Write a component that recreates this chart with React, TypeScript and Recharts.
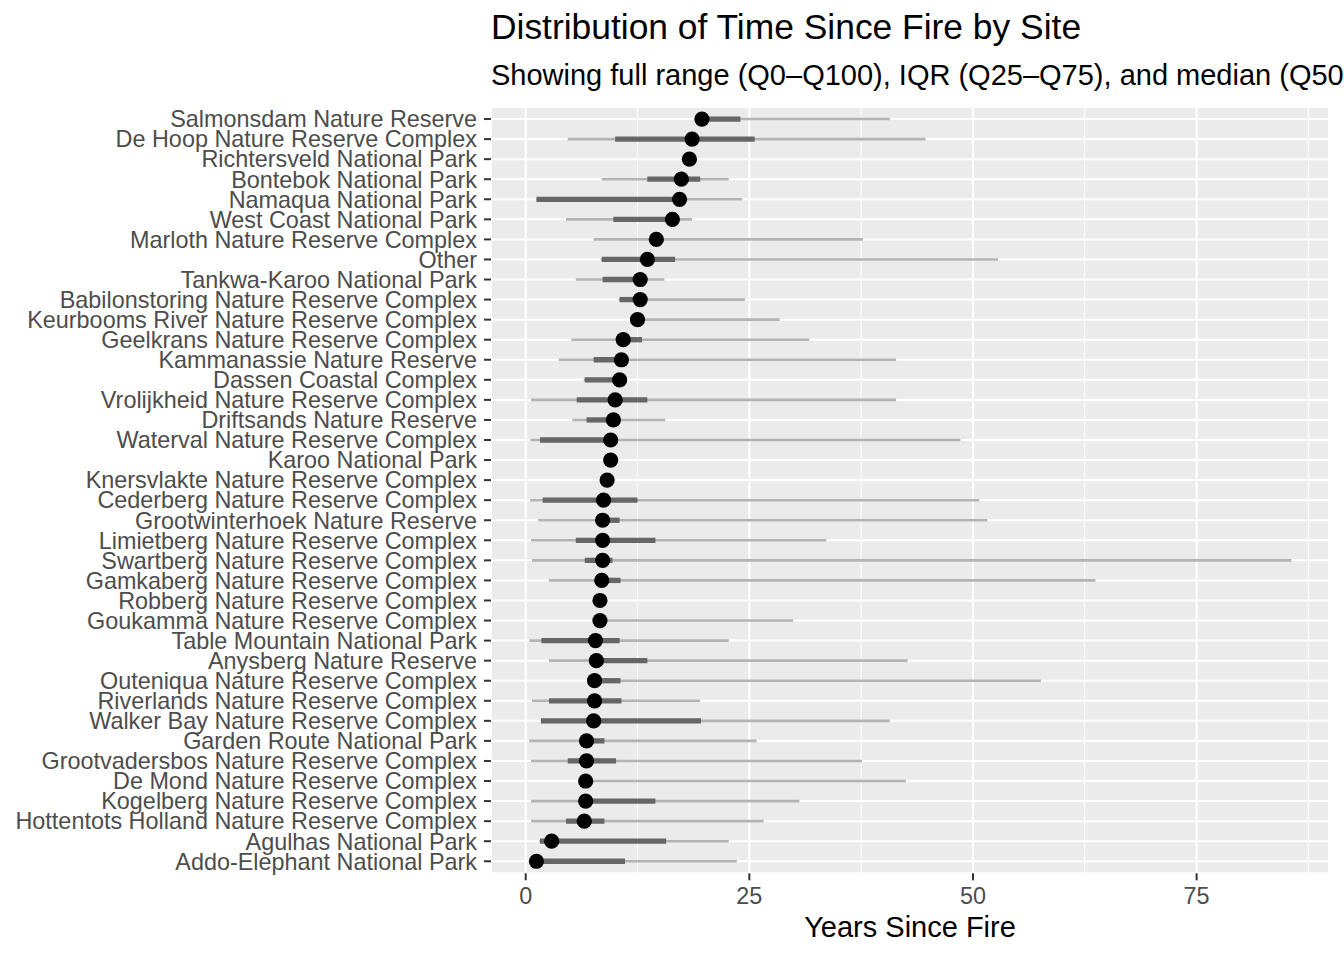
import React from "react";
import {
  ScatterChart,
  Scatter,
  XAxis,
  YAxis,
  CartesianGrid,
  ErrorBar,
  ReferenceLine,
} from "recharts";

// sites, top to bottom (sorted by median)
const sites = [
  "Salmonsdam Nature Reserve",
  "De Hoop Nature Reserve Complex",
  "Richtersveld National Park",
  "Bontebok National Park",
  "Namaqua National Park",
  "West Coast National Park",
  "Marloth Nature Reserve Complex",
  "Other",
  "Tankwa-Karoo National Park",
  "Babilonstoring Nature Reserve Complex",
  "Keurbooms River Nature Reserve Complex",
  "Geelkrans Nature Reserve Complex",
  "Kammanassie Nature Reserve",
  "Dassen Coastal Complex",
  "Vrolijkheid Nature Reserve Complex",
  "Driftsands Nature Reserve",
  "Waterval Nature Reserve Complex",
  "Karoo National Park",
  "Knersvlakte Nature Reserve Complex",
  "Cederberg Nature Reserve Complex",
  "Grootwinterhoek Nature Reserve",
  "Limietberg Nature Reserve Complex",
  "Swartberg Nature Reserve Complex",
  "Gamkaberg Nature Reserve Complex",
  "Robberg Nature Reserve Complex",
  "Goukamma Nature Reserve Complex",
  "Table Mountain National Park",
  "Anysberg Nature Reserve",
  "Outeniqua Nature Reserve Complex",
  "Riverlands Nature Reserve Complex",
  "Walker Bay Nature Reserve Complex",
  "Garden Route National Park",
  "Grootvadersbos Nature Reserve Complex",
  "De Mond Nature Reserve Complex",
  "Kogelberg Nature Reserve Complex",
  "Hottentots Holland Nature Reserve Complex",
  "Agulhas National Park",
  "Addo-Elephant National Park",
];

const q0 = [
  19.3, 4.7, 18.0, 8.5, 1.2, 4.5, 7.6, 8.4, 5.6, 10.4, 12.1, 5.1, 3.7, 6.5,
  0.6, 5.2, 0.5, 9.2, 8.8, 0.5, 1.4, 0.6, 0.7, 2.6, 8.0, 8.0, 0.4, 2.6, 7.2,
  0.7, 1.7, 0.4, 0.6, 6.4, 0.6, 0.6, 1.5, 0.4,
];
const q25 = [
  19.5, 10.0, 18.1, 13.6, 1.2, 9.8, 14.1, 8.5, 8.6, 10.5, 12.3, 10.5, 7.6,
  6.6, 5.7, 6.8, 1.6, 9.3, 9.0, 1.9, 8.2, 5.6, 6.6, 8.1, 8.1, 8.1, 1.75, 7.5,
  7.4, 2.6, 1.7, 6.4, 4.7, 6.5, 6.3, 4.5, 1.6, 0.8,
];
const q50 = [
  19.7, 18.6, 18.3, 17.4, 17.2, 16.4, 14.6, 13.6, 12.8, 12.8, 12.5, 10.9,
  10.7, 10.5, 10.0, 9.8, 9.5, 9.5, 9.1, 8.7, 8.6, 8.6, 8.6, 8.5, 8.3, 8.3, 7.8,
  7.9, 7.7, 7.7, 7.6, 6.8, 6.8, 6.7, 6.7, 6.55, 2.9, 1.2,
];
const q75 = [
  24.0, 25.6, 18.5, 19.5, 17.6, 17.0, 15.4, 16.7, 13.3, 13.2, 13.2, 13.0,
  11.1, 10.8, 13.6, 10.3, 10.0, 9.7, 9.3, 12.5, 10.5, 14.5, 9.7, 10.6, 8.4,
  8.6, 10.5, 13.6, 10.6, 10.7, 19.6, 8.8, 10.1, 7.0, 14.5, 8.8, 15.7, 11.1,
];
const q100 = [
  40.7, 44.7, 18.7, 22.7, 24.2, 18.6, 37.7, 52.8, 15.5, 24.5, 28.4, 31.7,
  41.4, 11.0, 41.4, 15.6, 48.6, 9.9, 9.5, 50.7, 51.6, 33.6, 85.6, 63.7, 8.6,
  29.9, 22.7, 42.7, 57.6, 19.5, 40.7, 25.8, 37.6, 42.5, 30.6, 26.6, 22.7, 23.6,
];

const xTicks = [0, 25, 50, 75];
const xMinor = [12.5, 37.5, 62.5, 87.5];

const FONT = "'Liberation Sans', Arial, Helvetica, sans-serif";

const rows = sites.map((site, i) => ({
  site,
  idx: i,
  median: q50[i],
  range: [q50[i] - q0[i], q100[i] - q50[i]],
  iqr: [q50[i] - q25[i], q75[i] - q50[i]],
}));

const MedianDot = (props: any) => (
  <circle cx={props.cx} cy={props.cy} r={7.6} fill="#000000" />
);

export default function App() {
  return (
    <div
      style={{
        position: "absolute",
        left: 0,
        top: 0,
        width: 1344,
        height: 960,
        overflow: "hidden",
        background: "#fff",
        fontFamily: FONT,
      }}
    >
      <div
        style={{
          position: "absolute",
          left: 491,
          top: 9.5,
          fontSize: 35.4,
          lineHeight: "35.4px",
          color: "#000",
          whiteSpace: "nowrap",
        }}
      >
        Distribution of Time Since Fire by Site
      </div>
      <div
        style={{
          position: "absolute",
          left: 491,
          top: 60.8,
          fontSize: 29,
          lineHeight: "29px",
          color: "#000",
          whiteSpace: "nowrap",
        }}
      >
        Showing full range (Q0–Q100), IQR (Q25–Q75), and median (Q50)
      </div>

      <ScatterChart
        width={1344}
        height={960}
        margin={{ top: 107, right: 15, bottom: 46.7, left: 0 }}
      >
        <CartesianGrid
          fill="#EBEBEB"
          fillOpacity={1}
          stroke="#FFFFFF"
          strokeWidth={2}
        />
        {xMinor.map((v) => (
          <ReferenceLine key={v} x={v} stroke="#FFFFFF" strokeWidth={1} />
        ))}
        <XAxis
          type="number"
          dataKey="median"
          domain={[-3.88, 89.8]}
          allowDataOverflow
          ticks={xTicks}
          height={40}
          axisLine={false}
          tickSize={7}
          tickMargin={7}
          tickLine={{ stroke: "#333333", strokeWidth: 2 }}
          tick={{ fill: "#4D4D4D", fontSize: 23.4, fontFamily: FONT }}
        />
        <YAxis
          type="number"
          dataKey="idx"
          domain={[-0.6, 37.6]}
          allowDataOverflow
          reversed
          ticks={rows.map((r) => r.idx)}
          interval={0}
          tickFormatter={(v: number) => sites[v]}
          width={491}
          axisLine={false}
          tickSize={7}
          tickMargin={7}
          tickLine={{ stroke: "#333333", strokeWidth: 2 }}
          tick={{ fill: "#4D4D4D", fontSize: 23.4, fontFamily: FONT }}
        />
        <Scatter
          data={rows}
          shape={MedianDot}
          isAnimationActive={false}
        >
          <ErrorBar
            dataKey="range"
            direction="x"
            width={0}
            stroke="#B3B3B3"
            strokeWidth={2.6}
            isAnimationActive={false}
          />
          <ErrorBar
            dataKey="iqr"
            direction="x"
            width={0}
            stroke="#666666"
            strokeWidth={5.3}
            isAnimationActive={false}
          />
        </Scatter>
      </ScatterChart>

      <div
        style={{
          position: "absolute",
          left: 491,
          width: 838,
          top: 912.8,
          fontSize: 29,
          lineHeight: "29px",
          color: "#000",
          textAlign: "center",
          whiteSpace: "nowrap",
        }}
      >
        Years Since Fire
      </div>
    </div>
  );
}
